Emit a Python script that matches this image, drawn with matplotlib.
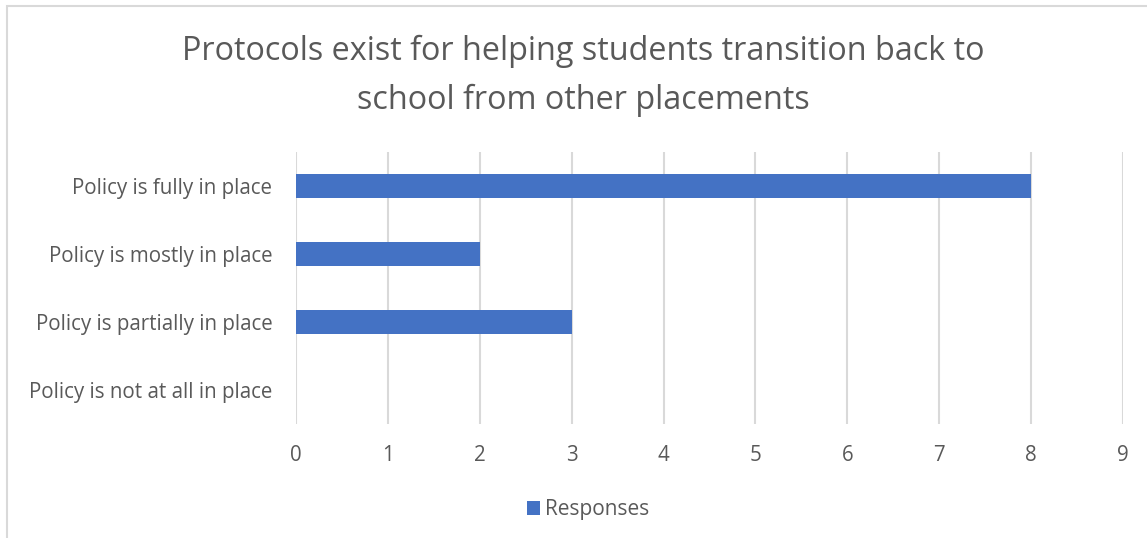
import matplotlib.pyplot as plt
from matplotlib.patches import Rectangle

categories = ["Policy is fully in place", "Policy is mostly in place",
              "Policy is partially in place", "Policy is not at all in place"]
responses = [8, 2, 3, 0]
x_ticks = list(range(0, 10))

title = "Protocols exist for helping students transition back to\nschool from other placements"
text_color = "#595959"
bar_color = "#4472C4"
grid_color = "#D9D9D9"

plt.rcParams["font.family"] = ["Open Sans", "DejaVu Sans"]

W, H = 1147, 538
fig = plt.figure(figsize=(W / 100, H / 100), dpi=100)

# chart frame: only the left and top edges fall inside the image
fig.patches.append(Rectangle((7 / W, -0.1), 1.2, (H - 6) / H + 0.1,
                             transform=fig.transFigure, fill=False,
                             edgecolor=grid_color, linewidth=1.5))

ax = fig.add_axes([296 / W, 1 - 424 / H, (1123 - 296) / W, (424 - 152) / H])

ypos = list(range(len(categories)))
ax.barh(ypos, responses, height=0.35, color=bar_color, label="Responses", zorder=3)
ax.set_ylim(len(categories) - 0.5, -0.5)
ax.set_yticks(ypos)
ax.set_yticklabels(categories)
ax.set_xlim(0, 9)
ax.set_xticks(x_ticks)

ax.grid(axis="x", color=grid_color, linewidth=1.5, zorder=0)
for s in ax.spines.values():
    s.set_visible(False)
ax.tick_params(length=0, colors=text_color, labelsize=14.8)
ax.tick_params(axis="x", pad=15)
ax.tick_params(axis="y", pad=17)

fig.text(583 / W, 1 - 76 / H, title, ha="center", va="center",
         fontsize=23.3, color=text_color, linespacing=1.6)

fig.legend(loc="center", bbox_to_anchor=(588 / W, 1 - 510 / H), frameon=False,
           fontsize=15, labelcolor=text_color, handlelength=0.65, handleheight=0.65,
           handletextpad=0.25)

fig.savefig("out.png", dpi=100)
